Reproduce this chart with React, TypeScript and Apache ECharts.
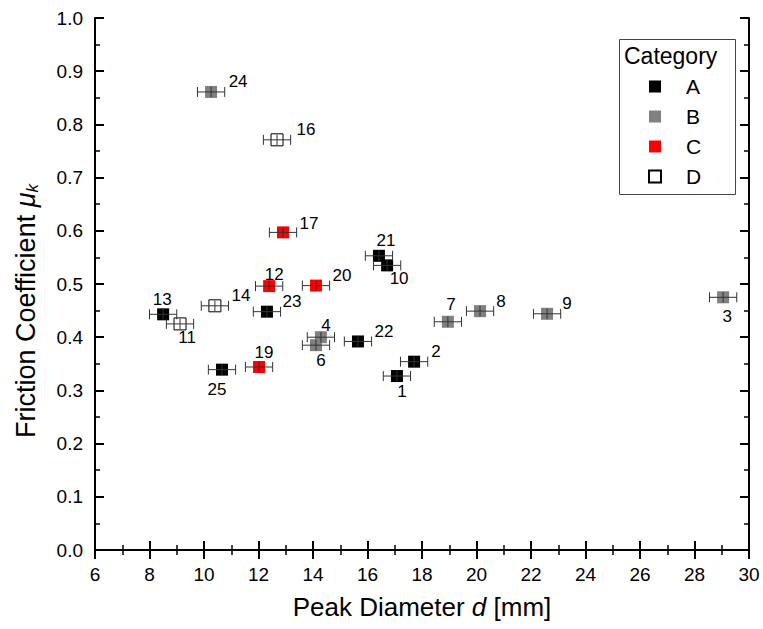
import React, { useEffect, useRef } from "react";
import * as echarts from "echarts";

const pointIds = [1, 2, 3, 4, 6, 7, 8, 9, 10, 11, 12, 13, 14, 16, 17, 19, 20, 21, 22, 23, 24, 25];
const peakDiameter = [17.08, 17.71, 29.05, 14.29, 14.11, 18.95, 20.13, 22.59, 16.72, 9.12, 12.39, 8.5, 10.4, 12.68, 12.9, 12.02, 14.11, 16.42, 15.65, 12.31, 10.26, 10.66];
const frictionCoef = [0.327, 0.354, 0.475, 0.400, 0.385, 0.429, 0.449, 0.444, 0.535, 0.425, 0.496, 0.443, 0.459, 0.771, 0.597, 0.344, 0.497, 0.553, 0.392, 0.448, 0.861, 0.339];
const pointCategory = ["A", "A", "B", "B", "B", "B", "B", "B", "A", "D", "C", "A", "D", "D", "C", "C", "C", "A", "A", "A", "B", "A"];
const xError = [0.5, 0.5, 0.5, 0.5, 0.5, 0.5, 0.5, 0.5, 0.5, 0.5, 0.5, 0.5, 0.5, 0.5, 0.5, 0.5, 0.5, 0.5, 0.5, 0.5, 0.5, 0.5];
const yError = [0.01, 0.01, 0.01, 0.01, 0.01, 0.01, 0.01, 0.01, 0.01, 0.01, 0.01, 0.01, 0.01, 0.01, 0.01, 0.01, 0.01, 0.01, 0.01, 0.01, 0.01, 0.01];
const categories = ["A", "B", "C", "D"];

// label placement (pixel offsets from marker centre), styling only
const labelOffsets: Record<number, [number, number]> = {
  1: [5, 15], 2: [22, -10], 3: [4, 19], 4: [5, -12], 6: [5, 15], 7: [3, -17], 8: [21, -10], 9: [20, -10],
  10: [12, 13], 11: [7, 14], 12: [5, -12], 13: [-1, -15], 14: [26, -10], 16: [29, -10], 17: [26, -9],
  19: [5, -14], 20: [26, -10], 21: [7, -15], 22: [26, -10], 23: [25, -10], 24: [27, -10], 25: [-5, 20],
};

const catStyle: Record<string, any> = {
  A: { color: "#000000", borderColor: "#000000", borderWidth: 0 },
  B: { color: "#808080", borderColor: "#808080", borderWidth: 0 },
  C: { color: "#ff0000", borderColor: "#ff0000", borderWidth: 0 },
  D: { color: "#ffffff", borderColor: "#000000", borderWidth: 1 },
};

const FONT = "'Liberation Sans', Arial, sans-serif";

export default function App() {
  const ref = useRef<HTMLDivElement>(null);
  useEffect(() => {
    if (!ref.current) return;
    const chart = echarts.init(ref.current, undefined, { renderer: "svg" });

    const scatterSeries = categories.map((cat) => ({
      name: cat,
      type: "scatter",
      symbol: "rect",
      symbolSize: 12,
      itemStyle: { ...catStyle[cat], opacity: 1 },
      label: {
        show: true,
        position: "inside",
        formatter: "{b}",
        color: "#000",
        fontSize: 17,
        fontFamily: FONT,
      },
      z: 2,
      data: pointIds
        .map((id, i) => ({ id, i }))
        .filter(({ i }) => pointCategory[i] === cat)
        .map(({ id, i }) => ({
          name: String(id),
          value: [peakDiameter[i], frictionCoef[i]],
          label: { offset: labelOffsets[id] || [0, 0] },
        })),
    }));

    const errData = pointIds.map((_, i) => [peakDiameter[i], frictionCoef[i], xError[i], yError[i]]);

    const axisCommon = {
      axisLine: { show: true, lineStyle: { color: "#000", width: 2 } },
      axisTick: { show: true, inside: true, length: 9, lineStyle: { color: "#000", width: 2 } },
      minorTick: { show: true, splitNumber: 2, length: 5, lineStyle: { color: "#000", width: 1.5 } },
      splitLine: { show: false },
    };

    chart.setOption({
      animation: false,
      backgroundColor: "#fff",
      grid: { left: 95, right: 14, top: 18, bottom: 79, containLabel: false },
      xAxis: [
        {
          ...axisCommon,
          type: "value",
          min: 6,
          max: 30,
          interval: 2,
          position: "bottom",
          name: "Peak Diameter {i|d} [mm]",
          nameLocation: "middle",
          nameGap: 44,
          nameTextStyle: {
            fontSize: 26,
            color: "#000",
            fontFamily: FONT,
            rich: { i: { fontStyle: "italic", fontSize: 26, color: "#000", fontFamily: FONT } },
          },
          axisLabel: { fontSize: 19, color: "#000", margin: 15, fontFamily: FONT },
        },
        {
          ...axisCommon,
          type: "value",
          min: 6,
          max: 30,
          interval: 2,
          position: "top",
          axisLabel: { show: false },
        },
      ],
      yAxis: [
        {
          ...axisCommon,
          type: "value",
          min: 0,
          max: 1,
          interval: 0.1,
          position: "left",
          name: "Friction Coefficient {i|μ}{s|k}",
          nameLocation: "middle",
          nameRotate: 90,
          nameGap: 54,
          nameTextStyle: {
            fontSize: 27,
            color: "#000",
            fontFamily: FONT,
            padding: [0, 54, 0, 0],
            rich: {
              i: { fontStyle: "italic", fontSize: 27, color: "#000", fontFamily: FONT },
              s: { fontStyle: "italic", fontSize: 17, color: "#000", fontFamily: FONT, padding: [13, 0, 0, 0] },
            },
          },
          axisLabel: {
            fontSize: 19,
            color: "#000",
            margin: 12,
            fontFamily: FONT,
            formatter: (v: number) => v.toFixed(1),
          },
        },
        {
          ...axisCommon,
          type: "value",
          min: 0,
          max: 1,
          interval: 0.1,
          position: "right",
          axisLabel: { show: false },
        },
      ],
      legend: {
        orient: "vertical",
        left: 643,
        top: 71,
        data: categories,
        icon: "rect",
        itemWidth: 12,
        itemHeight: 12,
        itemGap: 9,
        textStyle: { fontSize: 21, color: "#000", fontFamily: FONT, lineHeight: 21, padding: [0, 0, 0, 20] },
      },
      graphic: [
        {
          type: "rect",
          left: 617,
          top: 37,
          shape: { width: 116, height: 155 },
          style: { fill: "none", stroke: "#444", lineWidth: 1 },
          z: 10,
        },
        {
          type: "text",
          left: 624,
          top: 44,
          style: { text: "Category", fontSize: 23, fill: "#000", fontFamily: FONT },
          z: 10,
        },
      ],
      series: [
        ...scatterSeries,
        {
          type: "custom",
          name: "err",
          xAxisIndex: 0,
          yAxisIndex: 0,
          z: 3,
          silent: true,
          data: errData,
          renderItem: (params: any, api: any) => {
            const x = api.value(0);
            const y = api.value(1);
            const xe = api.value(2);
            const ye = api.value(3);
            const l = api.coord([x - xe, y]);
            const r = api.coord([x + xe, y]);
            const t = api.coord([x, y + ye]);
            const b = api.coord([x, y - ye]);
            const cap = 5;
            const style = { stroke: "#333", lineWidth: 1, fill: "none" };
            return {
              type: "group",
              children: [
                { type: "line", shape: { x1: l[0], y1: l[1], x2: r[0], y2: r[1] }, style },
                { type: "line", shape: { x1: l[0], y1: l[1] - cap, x2: l[0], y2: l[1] + cap }, style },
                { type: "line", shape: { x1: r[0], y1: r[1] - cap, x2: r[0], y2: r[1] + cap }, style },
                { type: "line", shape: { x1: t[0], y1: t[1], x2: b[0], y2: b[1] }, style },
              ],
            };
          },
        },
      ],
    });
    return () => chart.dispose();
  }, []);
  return <div ref={ref} style={{ width: 763, height: 629, position: "absolute", left: 0, top: 0 }} />;
}
